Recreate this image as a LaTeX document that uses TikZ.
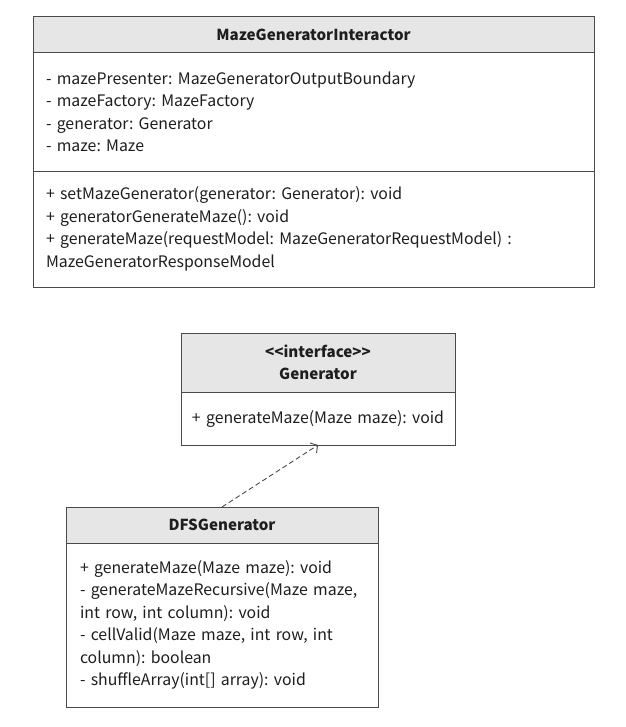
\documentclass[tikz,border=0pt]{standalone}
\usepackage{fontspec}
\setmainfont{Noto Sans CJK SC}
\usetikzlibrary{positioning,arrows.meta}
\definecolor{linec}{HTML}{4A4A4A}
\definecolor{headc}{HTML}{E6E6E6}
\definecolor{textc}{HTML}{1E1E1E}
\frenchspacing
\tikzset{
  classhead/.style={draw=linec, fill=headc, line width=1bp, outer sep=0pt, inner sep=0pt,
    text=textc, align=center, font=\fontsize{15.2}{22.6}\selectfont\bfseries},
  classbody/.style={draw=linec, fill=white, line width=1bp, outer sep=0pt, inner ysep=0pt,
    inner xsep=13bp, text=textc, align=left, font=\fontsize{15.9}{22.6}\selectfont},
}

\begin{document}
\begin{tikzpicture}[x=1bp, y=-1bp]
	\useasboundingbox (0,0) rectangle (626,727);
	% interactor class
	\node[classhead, minimum width=561bp, minimum height=36bp, anchor=north west] (intHead) at (33,17) {MazeGeneratorInteractor};
	\node[classbody, text width=535bp, minimum height=118bp, below=0pt of intHead] (intAttr) {- mazePresenter: MazeGeneratorOutputBoundary\\ - mazeFactory: MazeFactory\\ - generator: Generator\\ - maze: Maze};
	\node[classbody, text width=535bp, minimum height=116bp, below=0pt of intAttr] (intOps) {+ setMazeGenerator(generator: Generator): void\\ + generatorGenerateMaze(): void\\ + generateMaze(requestModel: MazeGeneratorRequestModel) :\\ MazeGeneratorResponseModel};
	% interface
	\node[classhead, minimum width=274bp, minimum height=59bp, anchor=north west] (genHead) at (181,333) {<\kern0pt<interface>\kern0pt>\\ Generator};
	\node[classbody, text width=270bp, minimum height=53bp, align=center, inner xsep=2bp, below=0pt of genHead] (genOps) {+ generateMaze(Maze maze): void};
	% dfs class
	\node[classhead, minimum width=312bp, minimum height=36bp, anchor=north west] (dfsHead) at (66,507) {DFSGenerator};
	\node[classbody, text width=284bp, minimum height=164bp, inner xsep=14bp, below=0pt of dfsHead] (dfsOps) {+ generateMaze(Maze maze): void\\ - generateMazeRecursive(Maze maze,\\ int row, int column): void\\ - cellValid(Maze maze, int row, int\\ column): boolean\\ - shuffleArray(int[] array): void};
	% realization
	\draw[linec, line width=0.9bp, dash pattern=on 5bp off 3bp, -{Straight Barb[length=5bp, width=12bp]}] (dfsHead.north) -- (genOps.south);
\end{tikzpicture}
\end{document}
